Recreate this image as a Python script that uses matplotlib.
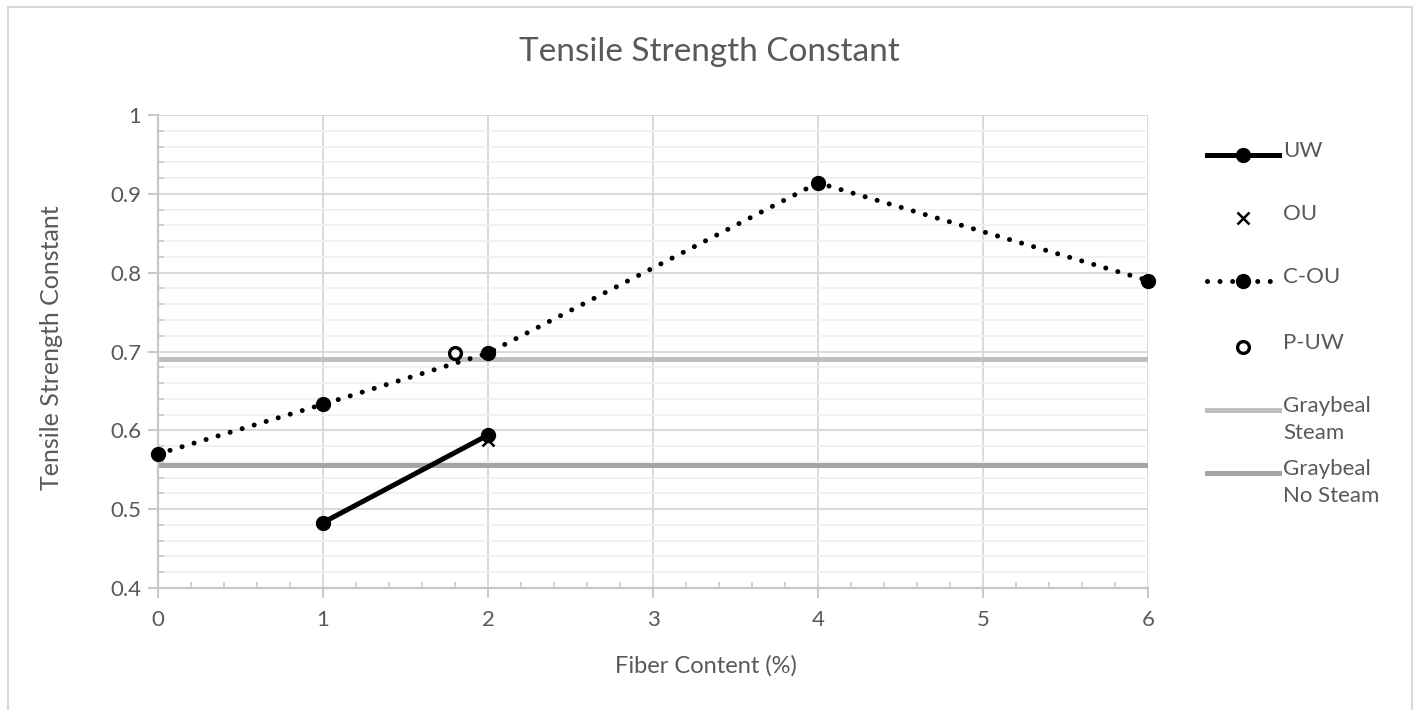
import matplotlib
matplotlib.use("Agg")
import matplotlib.pyplot as plt
from matplotlib.lines import Line2D
from matplotlib.patches import Rectangle
from matplotlib.ticker import MultipleLocator

plt.rcParams['font.family'] = ['Lato', 'DejaVu Sans']

# Series data
uw_x = [1, 2]
uw_y = [0.483, 0.594]
ou_x = [2]
ou_y = [0.588]
cou_x = [0, 1, 2, 4, 6]
cou_y = [0.570, 0.633, 0.698, 0.914, 0.790]
puw_x = [1.8]
puw_y = [0.698]
graybeal_steam = 0.690
graybeal_no_steam = 0.556

x_ticks = [0, 1, 2, 3, 4, 5, 6]
y_ticks = [0.4, 0.5, 0.6, 0.7, 0.8, 0.9, 1.0]
y_tick_labels = ['0.4', '0.5', '0.6', '0.7', '0.8', '0.9', '1']

TEXT = '#595959'
GRID = '#d9d9d9'
MINOR = '#f0f0f0'
STEAM_C = '#bfbfbf'
NOSTEAM_C = '#a5a5a5'
FS = 16

W, H = 1418, 710
fig = plt.figure(figsize=(W / 100, H / 100), dpi=100)
fig.patch.set_facecolor('white')


def fx(px):
    return px / W


def fy(py):
    return 1 - py / H


# chart frame
fig.add_artist(Rectangle((8 / W, -0.05), (1412 - 8) / W, (H - 7) / H + 0.05,
                         transform=fig.transFigure, fill=False,
                         edgecolor='#d9d9d9', lw=1.5))

ax = fig.add_axes([158 / W, 1 - 588 / H, (1148 - 158) / W, (588 - 115) / H])
ax.set_xlim(0, 6)
ax.set_ylim(0.4, 1.0)

ax.set_xticks(x_ticks)
ax.set_xticklabels([str(v) for v in x_ticks])
ax.set_yticks(y_ticks)
ax.set_yticklabels(y_tick_labels)
ax.xaxis.set_minor_locator(MultipleLocator(0.2))
ax.yaxis.set_minor_locator(MultipleLocator(0.02))

ax.grid(which='minor', axis='y', color=MINOR, lw=1.3, zorder=0)
ax.grid(which='major', axis='both', color=GRID, lw=1.4, zorder=0)
ax.set_axisbelow(True)

for s in ['top', 'right']:
    ax.spines[s].set_visible(False)
for s in ['left', 'bottom']:
    ax.spines[s].set_color('#c8c8c8')
    ax.spines[s].set_linewidth(1.6)

ax.tick_params(which='major', axis='x', direction='out', length=7, width=1.4,
               color='#c8c8c8', labelsize=FS, labelcolor=TEXT, pad=9)
ax.tick_params(which='major', axis='y', direction='out', length=7, width=1.4,
               color='#c8c8c8', labelsize=FS, labelcolor=TEXT, pad=5)
ax.tick_params(which='minor', direction='in', length=4, width=1.2, color='#c8c8c8')

# Reference lines
ax.axhline(graybeal_steam, color=STEAM_C, lw=3.6, zorder=2, solid_capstyle='butt')
ax.axhline(graybeal_no_steam, color=NOSTEAM_C, lw=3.6, zorder=2, solid_capstyle='butt')

dot_style = (0, (0.01, 2.5))

ax.plot(cou_x, cou_y, color='black', lw=3.6, linestyle=dot_style,
        dash_capstyle='round', marker='o', ms=10, zorder=4, clip_on=False)
ax.plot(uw_x, uw_y, color='black', lw=3.6, marker='o', ms=10, zorder=5,
        solid_capstyle='round', clip_on=False)
ax.plot(ou_x, ou_y, linestyle='none', marker='x', color='black', ms=8.5,
        mew=1.8, zorder=6)
ax.plot(puw_x, puw_y, linestyle='none', marker='o', mfc='white', mec='black',
        ms=8.5, mew=2.4, zorder=6)

fig.text(0.5, fy(52), 'Tensile Strength Constant', fontsize=24,
         color=TEXT, ha='center', va='center')
fig.text(fx(706), fy(666), 'Fiber Content (%)', fontsize=17, color=TEXT,
         ha='center', va='center')
fig.text(fx(52), fy(348), 'Tensile Strength Constant', fontsize=18,
         color=TEXT, ha='center', va='center', rotation=90)

# Legend drawn in figure coordinates
hx0, hx1, tx = 1207, 1279, 1283
entries = [
    ('UW', 155, dict(color='black', lw=3.6, ls='-'), dict(marker='o', ms=10, color='black')),
    ('OU', 218, None, dict(marker='x', ms=8.5, mew=1.8, color='black')),
    ('C-OU', 281, dict(color='black', lw=3.6, ls=dot_style, dash_capstyle='round'),
     dict(marker='o', ms=10, color='black')),
    ('P-UW', 347, None, dict(marker='o', ms=8.5, mew=2.4, mfc='white', mec='black')),
    ('Graybeal\nSteam', 410, dict(color=STEAM_C, lw=3.6, ls='-'), None),
    ('Graybeal\nNo Steam', 473, dict(color=NOSTEAM_C, lw=3.6, ls='-'), None),
]
for label, py, line_kw, mk_kw in entries:
    if line_kw is not None:
        fig.add_artist(Line2D([fx(hx0), fx(hx1)], [fy(py), fy(py)],
                              transform=fig.transFigure, **line_kw))
    if mk_kw is not None:
        fig.add_artist(Line2D([fx((hx0 + hx1) / 2)], [fy(py)], ls='none',
                              transform=fig.transFigure, **mk_kw))
    fig.text(fx(tx), fy(py - 14), label, fontsize=FS, color=TEXT,
             ha='left', va='top', linespacing=1.42)

fig.savefig('out.png', dpi=100, facecolor='white')
